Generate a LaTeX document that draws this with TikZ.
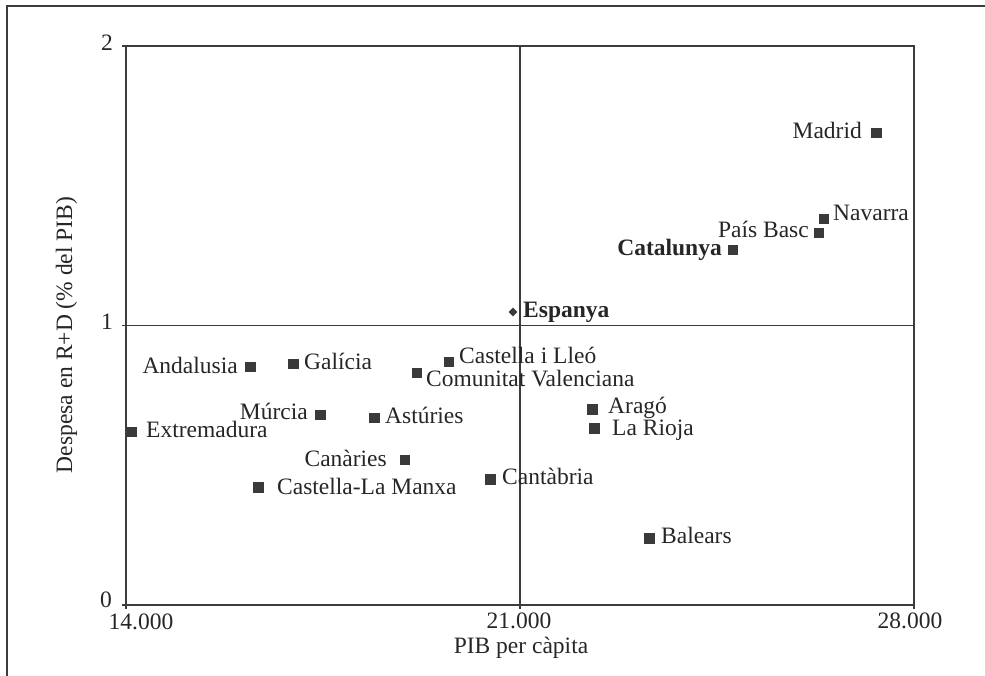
\documentclass[tikz,border=0pt]{standalone}
\usepackage{fontspec}
\setmainfont{Liberation Serif}
\usetikzlibrary{shapes.geometric}
\definecolor{mk}{HTML}{3A3A3A}
\definecolor{txt}{HTML}{262626}
\definecolor{axc}{HTML}{3C3C3C}
\begin{document}
\begin{tikzpicture}[x=1pt,y=-1pt,
  sq/.style={rectangle,fill=mk,draw=none,minimum size=10.5pt,inner sep=0pt},
  dia/.style={diamond,fill=mk,draw=none,minimum size=9pt,inner sep=0pt},
  lab/.style={font=\fontsize{23.5}{27}\selectfont,text=txt,inner sep=0pt},
  blab/.style={lab,font=\fontsize{23.5}{27}\selectfont\bfseries},
  axis/.style={draw=axc,line width=1.4pt},
  frame/.style={draw=axc,line width=1.7pt}]
\useasboundingbox (0,0) rectangle (985,676);
% outer frame (left and top edges)
\draw[frame] (7,676) -- (7,6) -- (985,6);
% plot area
\coordinate (tl) at (126,46);
\coordinate (br) at (914,605);
\draw[axis] (tl) rectangle (br);
\draw[axis] (126,325.5) -- (914,325.5);
\draw[axis] (520,46) -- (520,605);
% ticks
\foreach \yy in {46,325.5,605} \draw[axis] (122,\yy) -- (126,\yy);
\foreach \xx in {126,520,914} \draw[axis] (\xx,605) -- (\xx,609);
% tick labels
\node[lab,anchor=base east] (y2) at (113,51) {2};
\node[lab,anchor=base east] (y1) at (113,330) {1};
\node[lab,anchor=base east] (y0) at (112,607) {0};
\node[lab,anchor=base] (x14) at (141,629) {14.000};
\node[lab,anchor=base] (x21) at (519,628) {21.000};
\node[lab,anchor=base] (x28) at (910,628) {28.000};
% axis titles
\node[lab,anchor=base] (xt) at (521,653) {PIB per càpita};
\node[lab,anchor=base,rotate=90] (yt) at (72,335) {Despesa en R+D (\% del PIB)};
% points
\node[sq] (madrid) at (876.5,133) {};
\node[sq] (navarra) at (824,219) {};
\node[sq] (pbasc) at (819,233) {};
\node[sq] (catalunya) at (733,250) {};
\node[dia] (espanya) at (513,312) {};
\node[sq] (andalusia) at (250.5,367) {};
\node[sq] (galicia) at (293.5,364) {};
\node[sq] (clleo) at (449,362) {};
\node[sq] (cval) at (417,373) {};
\node[sq] (murcia) at (320.5,415) {};
\node[sq] (asturies) at (374.5,418) {};
\node[sq] (extrem) at (132,432) {};
\node[sq] (canaries) at (405,460) {};
\node[sq] (clm) at (258.5,487.5) {};
\node[sq] (cantabria) at (490.5,479.5) {};
\node[sq] (arago) at (592.5,409.5) {};
\node[sq] (larioja) at (594.5,428.5) {};
\node[sq] (balears) at (649.5,538.5) {};
% labels
\node[lab,anchor=base east] (lmadrid) at (862,139) {Madrid};
\node[lab,anchor=base west] (lnavarra) at (833,221) {Navarra};
\node[lab,anchor=base east] (lpbasc) at (809,238) {País Basc};
\node[blab,anchor=base east] (lcatalunya) at (722,256) {Catalunya};
\node[blab,anchor=base west] (lespanya) at (523,317) {Espanya};
\node[lab,anchor=base east] (landalusia) at (238,373) {Andalusia};
\node[lab,anchor=base west] (lgalicia) at (304,369) {Galícia};
\node[lab,anchor=base west] (lclleo) at (459,363) {Castella i Lleó};
\node[lab,anchor=base west] (lcval) at (426,386) {Comunitat Valenciana};
\node[lab,anchor=base east] (lmurcia) at (308,419) {Múrcia};
\node[lab,anchor=base west] (lasturies) at (385,423) {Astúries};
\node[lab,anchor=base west] (lextrem) at (146,437) {Extremadura};
\node[lab,anchor=base east] (lcanaries) at (387,466) {Canàries};
\node[lab,anchor=base west] (lclm) at (277,494) {Castella-La Manxa};
\node[lab,anchor=base west] (lcantabria) at (502,484) {Cantàbria};
\node[lab,anchor=base west] (larago) at (608,413) {Aragó};
\node[lab,anchor=base west] (llarioja) at (612,435) {La Rioja};
\node[lab,anchor=base west] (lbalears) at (661,543) {Balears};
\end{tikzpicture}
\end{document}
